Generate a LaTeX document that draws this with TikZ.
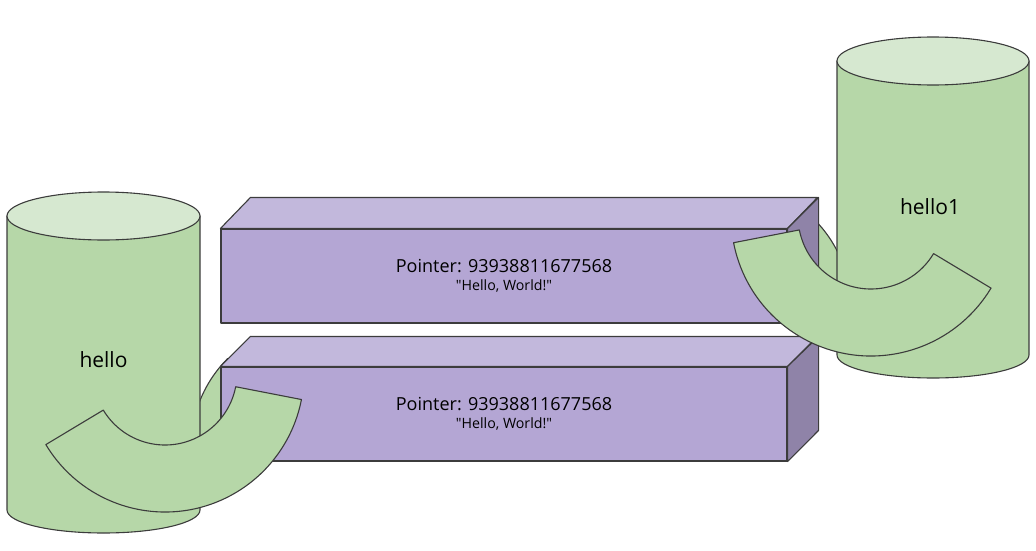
\documentclass[tikz,border=0pt]{standalone}
\usepackage{fontspec}
\setmainfont{Open Sans}[Ligatures=TeXOff]
\usepackage{tikz}
\usetikzlibrary{calc, positioning}
\definecolor{cylgreen}{RGB}{182, 215, 168}
\definecolor{cyltopgreen}{RGB}{214, 232, 208}
\definecolor{boxpurple}{RGB}{180, 166, 212}
\definecolor{boxtoppurple}{RGB}{194, 184, 220}
\definecolor{boxsidepurple}{RGB}{143, 131, 168}
\definecolor{edgegray}{RGB}{60, 60, 60}

\begin{document}
\begin{tikzpicture}[
  x=1pt, y=-1pt,
  every path/.style={draw=edgegray, line width=1.1pt, line join=round},
  handpart/.style={fill=cylgreen},
  cylbody/.style={fill=cylgreen},
  cyltop/.style={fill=cyltopgreen},
  boxfront/.style={draw=edgegray, line width=1.1pt, fill=boxpurple, minimum width=566pt, minimum height=94pt, inner sep=0pt, align=center, font=\fontsize{18}{18}\selectfont},
  boxtop/.style={fill=boxtoppurple},
  boxside/.style={fill=boxsidepurple},
  cyllabel/.style={font=\fontsize{21}{21}\selectfont}
]
  \useasboundingbox[draw=none] (0,0) rectangle (1036,551);
  \coordinate (lhand) at (165,373);
  \coordinate (rhand) at (871,216);
  \coordinate (lback) at (316,447);
  \coordinate (rback) at (730,305);

  % back parts of the hands
  \draw[handpart] ($(lback)+(225:125)$) arc[start angle=225, end angle=160, radius=125]
    -- ($(lback)+(160:70)$) arc[start angle=160, end angle=225, radius=70] -- cycle;
  \draw[handpart] ($(rback)+(15:120)$) arc[start angle=15, end angle=-48, radius=120]
    -- ($(rback)+(-48:70)$) arc[start angle=-48, end angle=15, radius=70] -- cycle;

  % cylinders
  \draw[cylbody] (7,216) -- (7,510) arc[start angle=180, end angle=0, x radius=96.5, y radius=23] -- (200,216) -- cycle;
  \draw[cyltop] (103.5,216) ellipse[x radius=96.5, y radius=24];
  \node[cyllabel] (hello) at (103.5,360) {hello};

  \draw[cylbody] (837,61) -- (837,355) arc[start angle=180, end angle=0, x radius=96, y radius=23] -- (1029,61) -- cycle;
  \draw[cyltop] (933,61) ellipse[x radius=96, y radius=24];
  \node[cyllabel] (hello1) at (930,207) {hello1};

  % pointer boxes
  \node[boxfront] (ptr1) at (504,276) {Pointer: 93938811677568\\[0pt]{\fontsize{14.2}{14.2}\selectfont "Hello, World!"}};
  \draw[boxtop] (ptr1.north west) -- ++(30,-31) -- ++(567,0) -- (ptr1.north east) -- cycle;
  \draw[boxside] (ptr1.north east) -- ++(31,-31) -- ++(0,94) -- (ptr1.south east) -- cycle;

  \node[boxfront] (ptr2) at (504,414) {Pointer: 93938811677568\\[0pt]{\fontsize{14.2}{14.2}\selectfont "Hello, World!"}};
  \draw[boxtop] (ptr2.north west) -- ++(30,-30) -- ++(567,0) -- (ptr2.north east) -- cycle;
  \draw[boxside] (ptr2.north east) -- ++(31,-30) -- ++(0,94) -- (ptr2.south east) -- cycle;

  % front parts of the hands
  \draw[handpart] ($(lhand)+(149:139)$) arc[start angle=149, end angle=11, radius=139]
    -- ($(lhand)+(11:72)$) arc[start angle=11, end angle=149, radius=72] -- cycle;
  \draw[handpart] ($(rhand)+(169:140)$) arc[start angle=169, end angle=31, radius=140]
    -- ($(rhand)+(31:73)$) arc[start angle=31, end angle=169, radius=73] -- cycle;
\end{tikzpicture}
\end{document}
